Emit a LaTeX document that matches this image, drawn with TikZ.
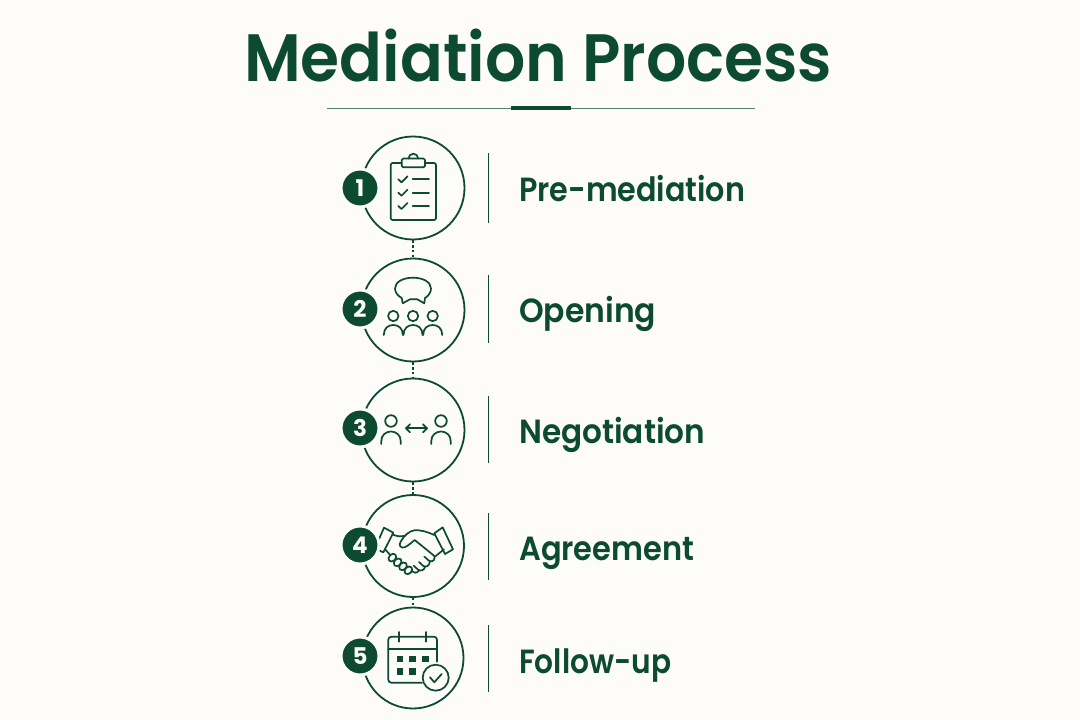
\documentclass[tikz,border=0pt]{standalone}
\usepackage{graphicx}
\usepackage{fontspec}
\setmainfont{Poppins}[BoldFont={Poppins SemiBold}]
\newfontfamily\badgefont{Poppins}[UprightFont={* Bold}]
\definecolor{gr}{HTML}{0C4B2F}
\definecolor{bg}{HTML}{FDFCFA}
\newcommand{\fitw}[2]{\resizebox{#1pt}{\height}{#2}}
\tikzset{
  step circle/.style={circle,draw=gr,line width=1.8pt,minimum size=103pt,inner sep=0pt},
  badge/.style={circle,fill=gr,draw=bg,line width=3pt,minimum size=38pt,inner sep=0pt,text=bg,font=\fontsize{23}{23}\selectfont\badgefont},
  label/.style={anchor=base west,text=gr,inner sep=0pt,font=\fontsize{33.5}{33.5}\selectfont\bfseries},
  sep/.style={draw=gr,line width=1.1pt},
  link/.style={draw=gr,line width=2pt,dash pattern=on 2.4pt off 2.4pt},
  ic/.style={draw=gr,line width=1.7pt,line cap=round,line join=round}
}
\begin{document}
\begin{tikzpicture}[x=1pt,y=-1pt]
\useasboundingbox[fill=bg] (0,0) rectangle (1080,720);
\node[anchor=base west,text=gr,inner sep=0pt,font=\fontsize{67}{67}\selectfont\bfseries] (title) at (244,81) {\fitw{588}{Mediation Process}};
\coordinate (rl) at (327,108); \coordinate (rr) at (755,108);
\draw[gr!70,line width=0.9pt] (rl)--(rr);
\coordinate (ra) at (511,108); \coordinate (rb) at (571,108);
\draw[gr,line width=3.2pt] (ra)--(rb);
\node[step circle] (c1) at (413,188) {};
\node[step circle] (c2) at (413,310) {};
\node[step circle] (c3) at (413,430) {};
\node[step circle,minimum size=102pt] (c4) at (413,546) {};
\node[step circle,minimum size=101pt] (c5) at (413,658) {};
\draw[link] (c1)--(c2); \draw[link] (c2)--(c3); \draw[link] (c3)--(c4); \draw[link] (c4)--(c5);
\foreach \n/\a/\b in {s1/153/223,s2/275/343,s3/396/463,s4/513/580,s5/625/692}{
  \draw[sep] (488.5,\a)--(488.5,\b);}
\node[label] (l1) at (519,201) {\fitw{226}{Pre-mediation}};
\node[label] (l2) at (519,322) {\fitw{137}{Opening}};
\node[label] (l3) at (519,443) {\fitw{186}{Negotiation}};
\node[label] (l4) at (519,560) {\fitw{175}{Agreement}};
\node[label] (l5) at (519,673) {\fitw{152}{Follow-up}};
% clipboard
\draw[ic,rounded corners=2pt] (401.7,163)--(390.7,163)--(390.7,220)--(436,220)--(436,163)--(425,163);
\draw[ic,rounded corners=1.5pt,fill=bg] (401.7,158.5) rectangle (425,167.3);
\draw[ic] (408.5,158.5) arc[start angle=180,end angle=360,radius=4.8];
\foreach \y in {179.3,192.7,206}{
  \draw[ic] (398.3,\y)--(401.5,\y+3)--(407.5,\y-3);
  \draw[ic] (412.7,\y)--(429,\y);}
% bubble + people
\draw[ic] (401.7,298) -- (402.7,303.3) -- (410,299.3) -- (417.3,299.3) -- (424.3,303.3) -- (425,298)
  .. controls (428.5,296) and (431,292.5) .. (431,288.5) .. controls (431,282) and (423,277.7) .. (413,277.7)
  .. controls (403,277.7) and (395,282) .. (395,288.5) .. controls (395,292.5) and (398,296) .. (401.7,298) -- cycle;
\foreach \x in {393.3,413,432.7}{
  \draw[ic] (\x,316) circle[radius=5.2];
  \draw[ic] (\x-9.5,335) .. controls (\x-9.5,328) and (\x-5,325) .. (\x,325) .. controls (\x+5,325) and (\x+9.5,328) .. (\x+9.5,335);}
% two people
\foreach \x in {391,441}{
  \draw[ic] (\x,421) circle[radius=5.8];
  \draw[ic] (\x-9.7,444) -- (\x-9.7,441) .. controls (\x-9.7,435) and (\x-5,431.5) .. (\x,431.5) .. controls (\x+5,431.5) and (\x+9.7,435) .. (\x+9.7,441) -- (\x+9.7,444);}
\draw[ic] (406,428.3)--(427,428.3);
\draw[ic] (410,424.3)--(406,428.3)--(410,432.3);
\draw[ic] (423,424.3)--(427,428.3)--(423,432.3);
% handshake
\begin{scope}[shift={(370,515)},x=0.33333pt,y=-0.33333pt]
\draw[ic,fill=bg] (42,38)--(70,53)--(40,112)--(15,100)--cycle;
\draw[ic,fill=bg] (218,37)--(249,103)--(225,117)--(193,55)--cycle;
\draw[ic] (67,58) .. controls (80,64) and (92,66) .. (104,62);
\draw[ic] (193,60) .. controls (170,50) and (150,44) .. (133,46) .. controls (118,48) and (104,60) .. (92,80) .. controls (85,92) and (92,100) .. (104,97) .. controls (115,92) and (125,82) .. (134,75) -- (192,122) .. controls (198,130) and (190,143) .. (178,138) -- (163,125);
\draw[ic] (180,139) .. controls (178,152) and (170,158) .. (160,153) -- (147,141);
\draw[ic] (165,155) .. controls (164,165) and (152,170) .. (144,164) -- (131,152);
\draw[ic] (147,166) .. controls (142,176) and (131,174) .. (126,169) -- (118,162);
\draw[ic] (222,103) -- (196,124);
\draw[ic] (46,104) -- (60,119);
\foreach \p in {(67,128),(83,142),(99,154),(115,166)}{
  \draw[ic,fill=bg,rotate around={45:\p}] \p ellipse[x radius=13,y radius=10];}
\end{scope}
% calendar
\draw[ic,rounded corners=3pt] (437,661.7)--(437,636.7)--(388.3,636.7)--(388.3,682.7)--(422,682.7);
\draw[ic] (388.3,649.3)--(437,649.3);
\draw[ic,line width=2pt] (399.3,632)--(399.3,641.7);
\draw[ic,line width=2pt] (426,632)--(426,641.7);
\foreach \x/\y in {400/659,412.7/659,425.7/659,400/671.7,412.7/671.7}{
  \fill[gr] (\x-3.3,\y-3.3) rectangle (\x+3.3,\y+3.3);}
\draw[ic,fill=bg] (435.7,677.7) circle[radius=13];
\draw[ic] (430,677.3)--(434.3,682.3)--(441.7,674);
% badges
\node[badge] (b1) at (360,188) {1};
\node[badge] (b2) at (360,309) {2};
\node[badge] (b3) at (360,428) {3};
\node[badge] (b4) at (360,545) {4};
\node[badge] (b5) at (360,656) {5};
\end{tikzpicture}
\end{document}
